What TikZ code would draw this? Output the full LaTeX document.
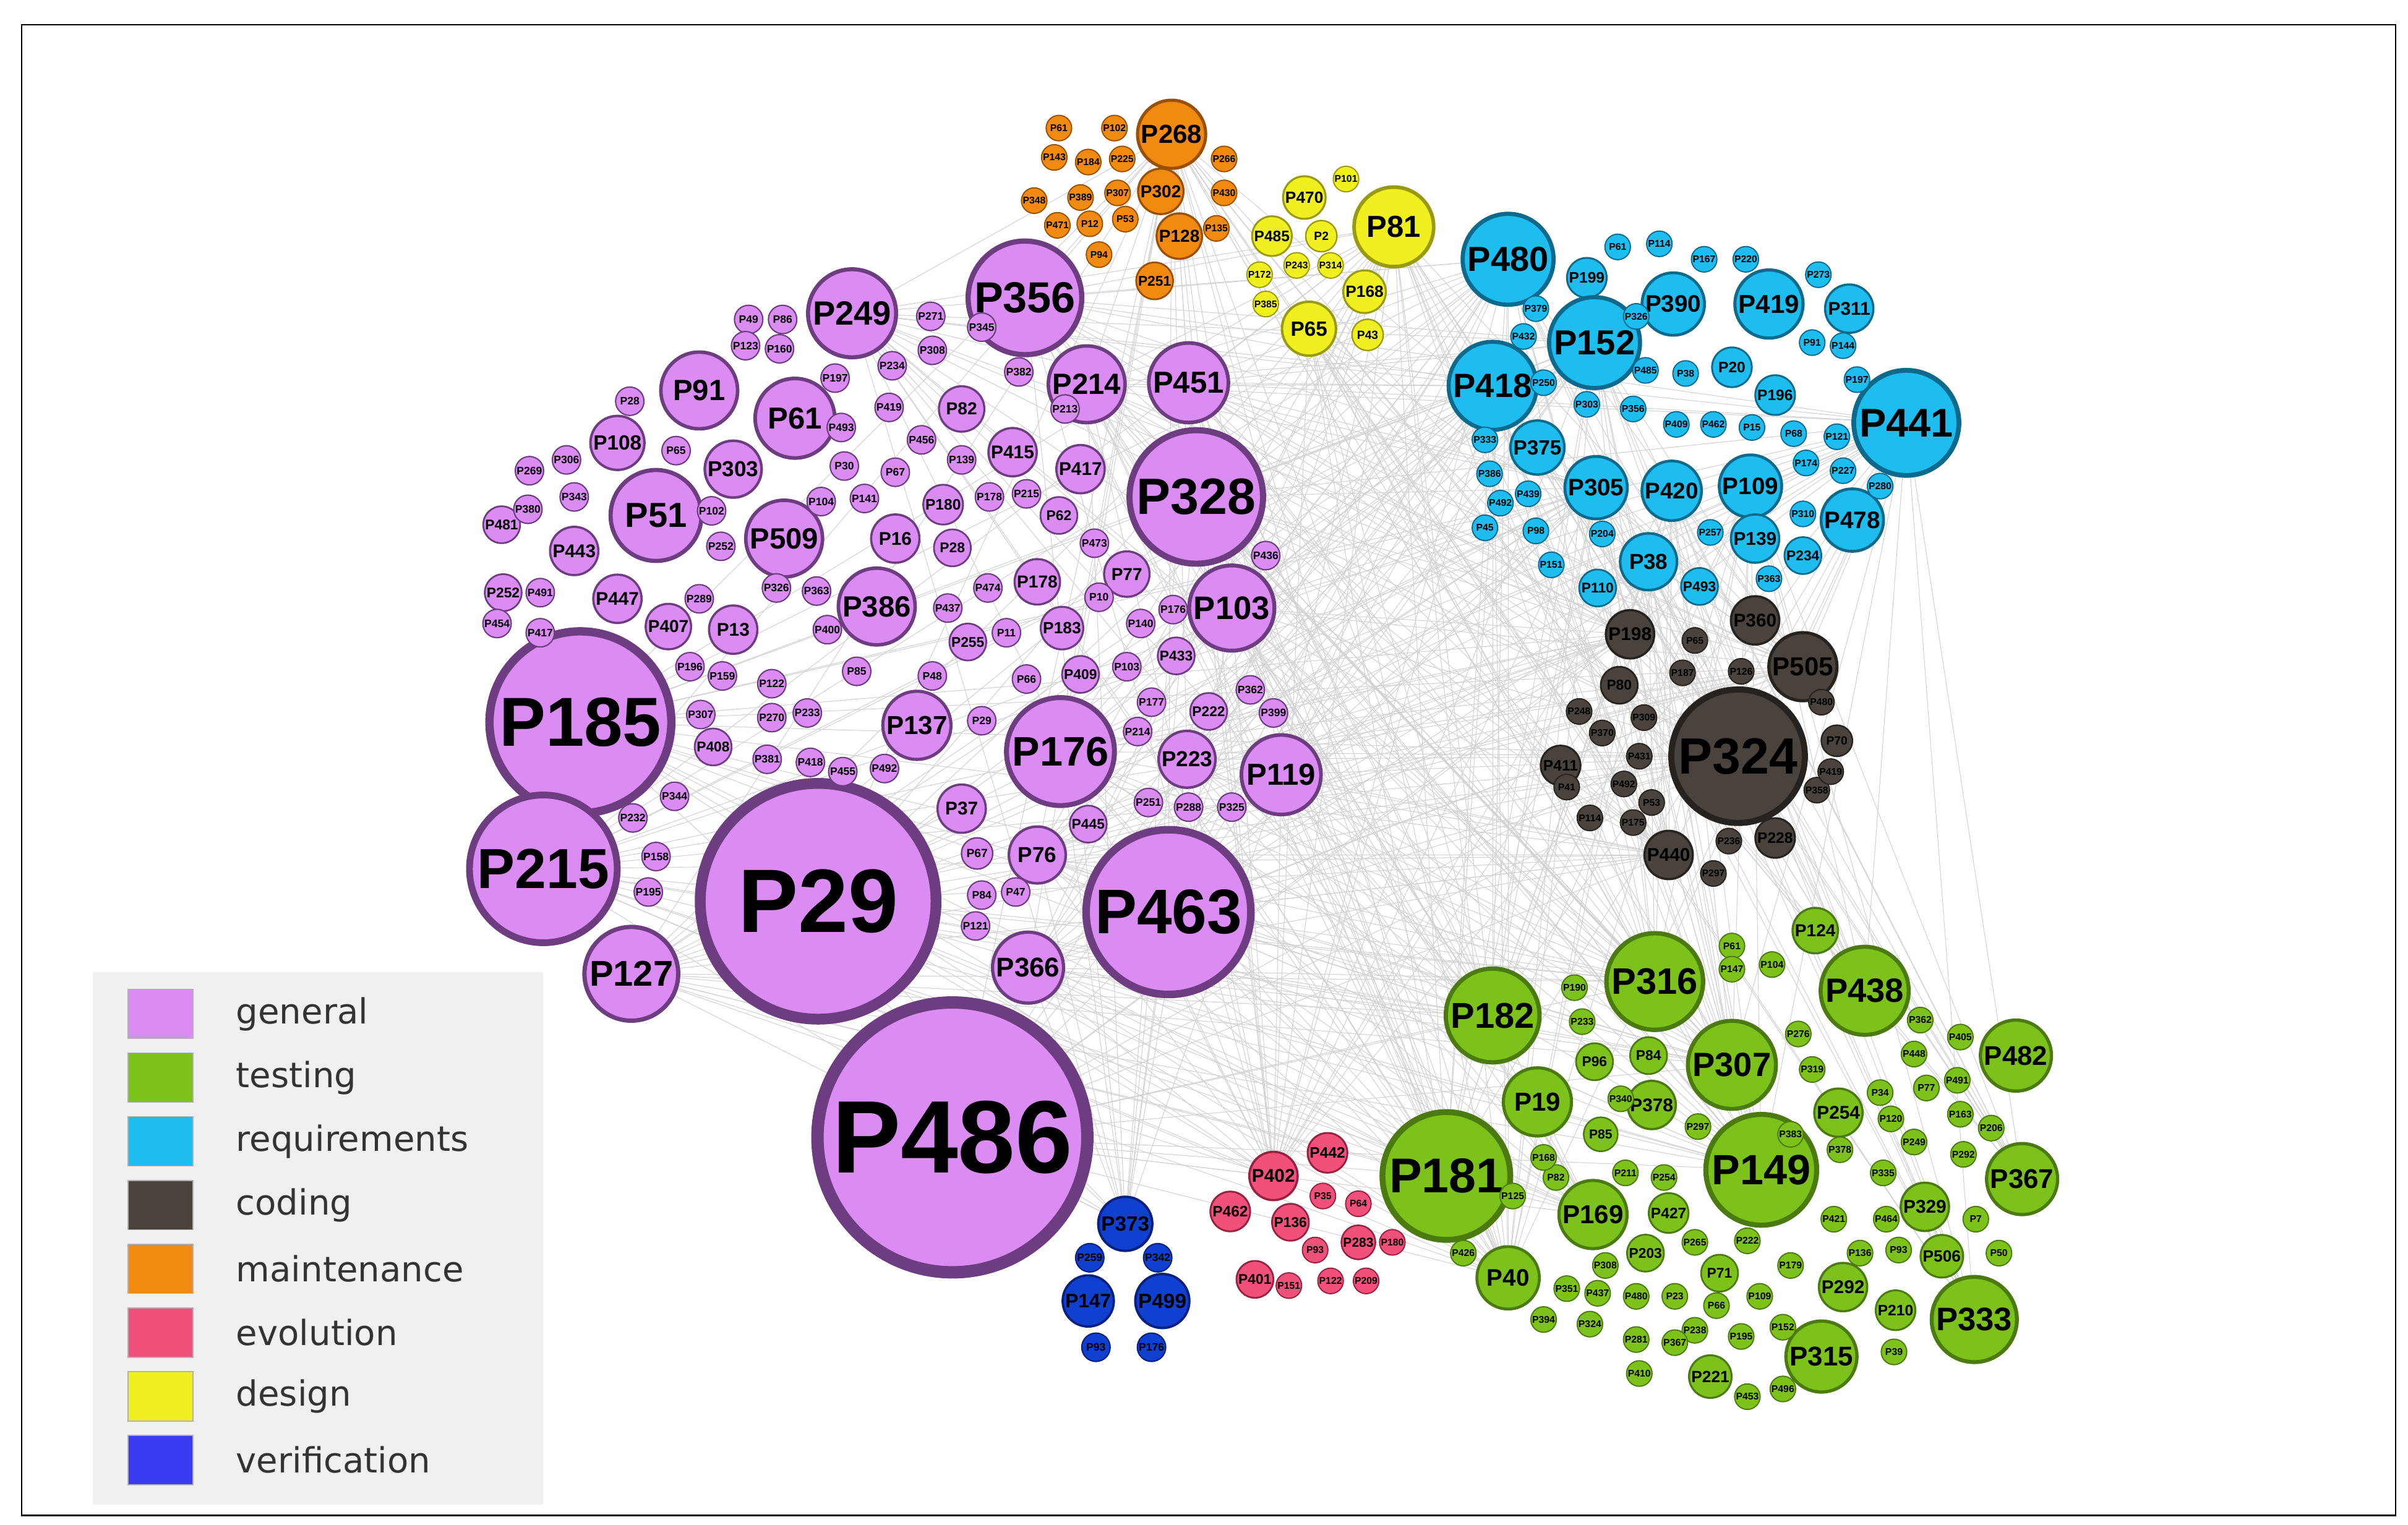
\documentclass[tikz,border=0pt]{standalone}
\usepackage{fontspec}
\setmainfont{Liberation Sans}
\newfontfamily\legf{DejaVu Sans}
\usetikzlibrary{backgrounds}
\definecolor{genF}{HTML}{DA8CF2}\definecolor{genD}{HTML}{6E3C80}
\definecolor{tesF}{HTML}{7CC21A}\definecolor{tesD}{HTML}{4A7A10}
\definecolor{reqF}{HTML}{1EBDF0}\definecolor{reqD}{HTML}{0E6A8C}
\definecolor{codF}{HTML}{4A433D}\definecolor{codD}{HTML}{26221F}
\definecolor{maiF}{HTML}{F08A10}\definecolor{maiD}{HTML}{9A5000}
\definecolor{evoF}{HTML}{F0507A}\definecolor{evoD}{HTML}{9A2040}
\definecolor{desF}{HTML}{F0F020}\definecolor{desD}{HTML}{9A9A10}
\definecolor{verF}{HTML}{1040D0}\definecolor{verD}{HTML}{0A2080}
\definecolor{verL}{HTML}{3A3AF0}
\tikzset{bubble/.style={circle,inner sep=0pt,text=black},
 edge/.style={draw=gray!35,line width=0.3pt},
 sw/.style={draw=gray!60,line width=0.4pt},
 legtext/.style={anchor=west,font=\legf\fontsize{16}{16}\selectfont,text=black!80}}
\newcommand\bubn[6]{\pgfmathsetmacro\fs{0.5*#3}\pgfmathsetmacro\lw{max(0.5,0.06*#3)}%
 \node[bubble,draw=#5D,fill=#5F,line width=\lw pt,minimum size={#3*0.046cm},font=\fontsize{\fs}{\fs}\selectfont\bfseries] (#6) at (#1,#2) {#4};}
\newcommand\bub[5]{\bubn{#1}{#2}{#3}{#4}{#5}{#4}}
\begin{document}
\begin{tikzpicture}[x=0.025cm,y=-0.025cm]
\useasboundingbox (0,0) rectangle (1560,988);
% general
\foreach \x/\y/\r/\l in {552/203/31/P249,664/193/40/P356,704/249/27/P214,770/248/28/P451,453/253/27/P91,515/271/28/P61,623/265/16/P82,400/287/19/P108,475/304/20/P303,656/293/17/P415,700/304/17/P417,775/322/47/P328,425/334/32/P51,508/349/27/P509,611/327/14/P180,686/334/13/P62,580/349/17/P16,617/355/13/P28,372/357/17/P443,730/372/16/P77,672/377/16/P178,568/393/27/P386,400/388/17/P447,798/394/30/P103,433/406/16/P407,475/408/17/P13,688/407/15/P183,762/425/13/P433,376/468/64/P185,594/470/24/P137,687/487/38/P176,769/492/20/P223,830/502/28/P119,783/461/13/P222,700/437/13/P409,623/524/17/P37,672/554/20/P76,705/534/13/P445,352/563/52/P215,530/584/83/P29,757/591/58/P463,666/627/25/P366,409/631/33/P127,617/737/95/P486,325/340/13/P481,326/384/13/P252,627/416/13/P255,462/484/13/P408,633/553/11/P67}
 {\bub{\x}{\y}{\r}{\l}{gen}}
\foreach \x/\y [count=\k] in {485/207,507/207,483/224,505/226,541/245,578/237,603/205,604/227,636/212,660/241,576/264,597/285,545/277,547/302,580/306,532/325,560/323,641/322,665/320,467/354,453/388,503/381,529/383,536/408,614/394,640/381,652/410,604/438,555/435,500/443,468/438,447/432,523/462,500/465,454/463,437/516,497/492,525/494,546/500,573/498,636/467,665/440,730/432,739/404,746/455,737/474,744/520,770/523,798/523,810/447,825/462,820/360,709/352,712/387,658/578,636/580,632/600,425/555,420/578,410/530,343/305,367/298,372/322,342/330,350/410,322/404,350/384,408/260,438/292,461/331,623/298,760/395,690/265}
 {\pgfmathtruncatemacro\lab{mod(\k*37+11,500)+1}\bubn{\x}{\y}{10}{P\lab}{gen}{g\k}}
% requirements
\foreach \x/\y/\r/\l in {977/168/32/P480,1028/180/14/P199,1084/197/22/P390,1146/197/24/P419,1198/200/17/P311,1033/222/32/P152,1122/238/14/P20,967/250/31/P418,1150/256/14/P196,1235/274/37/P441,996/290/19/P375,1034/316/22/P305,1083/318/21/P420,1134/315/22/P109,1200/337/22/P478,1137/349/17/P139,1068/364/20/P38,1101/380/13/P493,1035/381/13/P110,1168/360/13/P234}
 {\bub{\x}{\y}{\r}{\l}{req}}
\foreach \x/\y [count=\k] in {1048/160,1075/158,1104/168,1131/168,1178/178,1060/205,995/200,987/218,1066/240,1092/242,1174/222,1194/224,1203/246,1000/248,1028/262,1058/265,1086/275,1110/275,1135/277,1162/281,1190/283,1170/300,1194/305,1218/315,962/285,965/307,990/320,972/326,962/342,995/344,1005/366,1038/346,1108/345,1168/333,1146/375}
 {\pgfmathtruncatemacro\lab{mod(\k*53+7,500)+1}\bubn{\x}{\y}{9}{P\lab}{req}{r\k}}
% coding
\foreach \x/\y/\r/\l in {1056/411/17/P198,1137/402/17/P360,1168/432/24/P505,1049/444/13/P80,1126/490/47/P324,1011/496/14/P411,1081/554/17/P440,1150/543/14/P228,1190/480/11/P70}
 {\bub{\x}{\y}{\r}{\l}{cod}}
\foreach \x/\y [count=\k] in {1098/415,1128/435,1090/436,1023/461,1065/465,1038/475,1062/490,1052/508,1070/520,1030/530,1058/533,1120/545,1110/566,1177/512,1186/500,1180/455,1015/510}
 {\pgfmathtruncatemacro\lab{mod(\k*61+3,500)+1}\bubn{\x}{\y}{9}{P\lab}{cod}{c\k}}
% maintenance
\foreach \x/\y/\r/\l in {759/87/24/P268,752/124/16/P302,764/153/16/P128,748/182/13/P251}
 {\bub{\x}{\y}{\r}{\l}{mai}}
\foreach \x/\y [count=\k] in {686/83,722/83,683/102,705/105,727/103,793/103,724/125,670/130,700/128,793/125,685/146,706/145,729/142,712/165,788/148}
 {\pgfmathtruncatemacro\lab{mod(\k*41+19,500)+1}\bubn{\x}{\y}{9}{P\lab}{mai}{m\k}}
% design
\foreach \x/\y/\r/\l in {903/147/28/P81,845/128/15/P470,824/153/14/P485,884/189/15/P168,848/213/19/P65,856/153/11/P2,886/217/11/P43}
 {\bub{\x}{\y}{\r}{\l}{des}}
\foreach \x/\y [count=\k] in {872/116,816/178,840/172,862/172,820/197}
 {\pgfmathtruncatemacro\lab{mod(\k*71+29,500)+1}\bubn{\x}{\y}{9}{P\lab}{des}{d\k}}
% testing
\foreach \x/\y/\r/\l in {1176/603/16/P124,1072/636/34/P316,1208/642/31/P438,967/658/33/P182,1306/684/25/P482,1122/690/31/P307,996/714/24/P19,1070/716/17/P378,1191/721/17/P254,937/762/45/P181,1141/758/39/P149,1310/764/25/P367,1032/787/24/P169,1247/782/17/P329,977/828/22/P40,1194/834/17/P292,1228/849/14/P210,1279/855/30/P333,1180/879/25/P315,1108/892/15/P221,1258/814/15/P506,1066/812/13/P203,1114/825/13/P71,1068/684/13/P84,1033/688/13/P96,1037/735/12/P85,1081/786/14/P427}
 {\bub{\x}{\y}{\r}{\l}{tes}}
\foreach \x/\y [count=\k] in {1122/613,1148/625,1122/628,1020/640,1025/662,1165/670,1174/693,1244/661,1270/672,1240/683,1268/700,1218/708,1248/705,1225/725,1270/722,1290/731,1240/740,1272/748,1220/760,1192/745,1188/790,1222/790,1280/790,1295/812,1230/810,1205/812,1160/820,1132/804,1098/805,1040/820,1015/835,1000/855,1035/838,1060/840,1085/840,1112/846,1140/840,1155/860,1128/866,1098/862,1060/868,1030/858,1085/870,1062/890,1132/905,1155/900,1227/876,1008/763,980/775,1000/750,1053/760,1078/763,1100/730,1050/712,1160/735,948/812}
 {\pgfmathtruncatemacro\lab{mod(\k*43+17,500)+1}\bubn{\x}{\y}{9}{P\lab}{tes}{t\k}}
% evolution
\foreach \x/\y/\r/\l in {825/762/17/P402,860/747/14/P442,797/785/14/P462,836/792/13/P136,813/829/13/P401,880/805/12/P283}
 {\bub{\x}{\y}{\r}{\l}{evo}}
\foreach \x/\y [count=\k] in {857/775,880/780,852/810,862/830,835/833,902/805,885/830}
 {\pgfmathtruncatemacro\lab{mod(\k*29+5,500)+1}\bubn{\x}{\y}{9}{P\lab}{evo}{e\k}}
% verification
\foreach \x/\y/\r/\l in {729/793/19/P373,705/843/18/P147,753/843/19/P499}
 {\bub{\x}{\y}{\r}{\l}{ver}}
\foreach \x/\y [count=\k] in {710/873,746/873,706/815,750/815}
 {\pgfmathtruncatemacro\lab{mod(\k*83+9,500)+1}\bubn{\x}{\y}{10}{P\lab}{ver}{v\k}}
% edges
\begin{scope}[on background layer]
\fill[white] (0,0) rectangle (1560,988);
\foreach \a in {P356,P328,P103,P119,P463,P486,P29,P176,P214,P451,P249,P366,P76,P223,P185,P215,P127}
 {\foreach \b in {P480,P152,P418,P441,P305,P324,P505,P181,P182,P316,P149,P307,P81,P268,P402,P373,P40,P169,P198,P440}
  {\draw[edge] (\a) -- (\b);}}
\foreach \a in {P480,P152,P418,P441,P305,P109,P81,P65,P268,P38,P420}
 {\foreach \b in {P324,P505,P181,P182,P316,P149,P307,P333,P367,P402,P440,P40,P438}
  {\draw[edge] (\a) -- (\b);}}
\end{scope}
\draw[black,line width=0.8pt] (14,16) rectangle (1552,982);
% legend
\fill[gray!12] (60,630) rectangle (352,975);
\foreach \c/\t [count=\i from 0] in {genF/general,tesF/testing,reqF/requirements,codF/coding,maiF/maintenance,evoF/evolution,desF/design,verL/verification}{
 \node[sw,fill=\c,minimum width=42*0.025cm,minimum height=32*0.025cm,inner sep=0pt] (s\i) at (104,657+41.3*\i) {};
 \node[legtext] (l\i) at (148,657+41.3*\i) {\t};}
\end{tikzpicture}
\end{document}
